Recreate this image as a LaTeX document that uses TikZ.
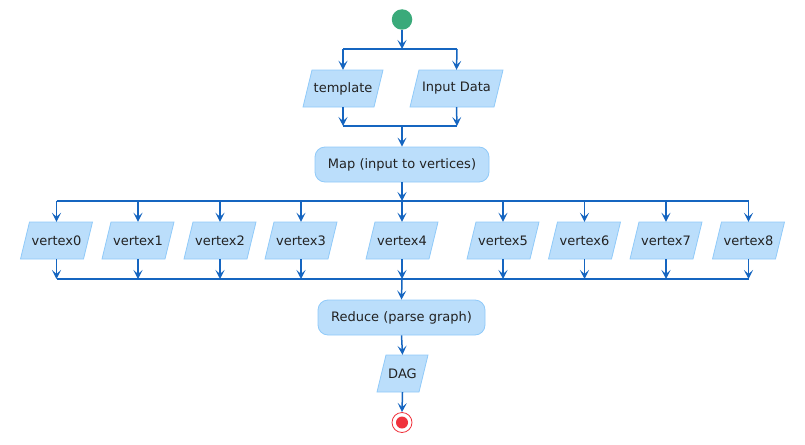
\documentclass[tikz,border=0pt]{standalone}
\usepackage{fontspec}
\setmainfont{DejaVu Sans}
\usetikzlibrary{arrows.meta}
\definecolor{boxfill}{HTML}{BBDEFB}
\definecolor{boxline}{HTML}{90CAF9}
\definecolor{arr}{HTML}{1565C0}
\definecolor{startg}{HTML}{3AAA7A}
\definecolor{endr}{HTML}{F0323C}
\definecolor{txt}{HTML}{222222}
\tikzset{
  flow/.style={draw=arr, line width=1.5pt, -{Stealth[length=9pt,width=9pt,inset=4pt]}},
  bar/.style={draw=arr, line width=1.5pt},
  iofill/.style={fill=boxfill, draw=boxline, line width=0.8pt},
  iotext/.style={inner sep=0pt, minimum height=37pt, text=txt, font=\fontsize{13}{15}\selectfont},
  act/.style={fill=boxfill, draw=boxline, line width=0.8pt, rounded corners=10pt, minimum height=35pt, text=txt, font=\fontsize{13}{15}\selectfont, inner sep=0pt},
}
% \iobox{name}{x}{y}{halfwidth}{text}
\newcommand\iobox[5]{%
  \filldraw[iofill] ({#2-#4-4.5},{#3+18.5}) -- ({#2+#4-4.5},{#3+18.5}) -- ({#2+#4+4.5},{#3-18.5}) -- ({#2-#4+4.5},{#3-18.5}) -- cycle;
  \node[iotext, minimum width={2*#4}] (#1) at (#2,#3) {#5};
}
\begin{document}
\begin{tikzpicture}[x=1pt,y=-1pt]
\useasboundingbox (0,0) rectangle (805,444);
% start
\node[circle, fill=startg, minimum size=20.5pt, inner sep=0pt] (start) at (402,19.5) {};
\coordinate (s1) at (402,49);
\coordinate (s1l) at (343,49);
\coordinate (s1r) at (457,49);
\iobox{tpl}{343}{88.5}{35.5}{template}
\iobox{inp}{456.5}{88.5}{42}{Input Data}
\coordinate (m1l) at (343,126);
\coordinate (m1r) at (457,126);
\coordinate (m1) at (402,126);
\node[act, minimum width=174pt] (map) at (402,164.5) {Map (input to vertices)};
\coordinate (s2) at (402,201);
\coordinate (s2l) at (56.5,201);
\coordinate (s2r) at (748.5,201);
\foreach \n/\x in {0/56.5,1/138,2/220,3/301,4/402,5/503,6/584.5,7/666,8/748.5}{
  \iobox{v\n}{\x}{240.5}{31.5}{vertex\n}
  \coordinate (t\n) at (\x,201);
  \coordinate (b\n) at (\x,279);
}
\coordinate (m2) at (402,279);
\node[act, minimum width=167pt] (red) at (401.5,317.5) {Reduce (parse graph)};
\iobox{dag}{402.5}{373.5}{21}{DAG}
\node[circle, draw=endr, line width=0.8pt, fill=white, minimum size=20pt, inner sep=0pt] (end) at (402,422.5) {};
\fill[endr] (end.center) circle (6pt);
% connectors
\draw[flow] (start) -- (s1);
\draw[bar] (s1l) -- (s1r);
\draw[flow] (s1l) -- (tpl.north);
\draw[flow] (s1r) -- (inp.north);
\draw[flow] (tpl.south) -- (m1l);
\draw[flow] (inp.south) -- (m1r);
\draw[bar] (m1l) -- (m1r);
\draw[flow] (m1) -- (map.north);
\draw[flow] (map.south) -- (s2);
\draw[bar] (s2l) -- (s2r);
\draw[bar] (b0) -- (b8);
\foreach \n in {0,...,8}{
  \draw[flow] (t\n) -- (v\n.north);
  \draw[flow] (v\n.south) -- (b\n);
}
\draw[flow] (m2) -- (red.north);
\draw[flow] (red.south) -- (dag.north);
\draw[flow] (dag.south) -- (end.north);
\end{tikzpicture}
\end{document}
